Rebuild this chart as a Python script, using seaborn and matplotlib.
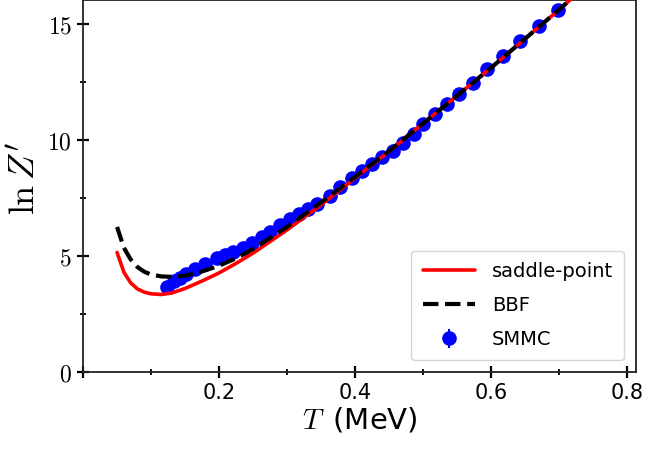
import matplotlib
matplotlib.use("Agg")
import matplotlib.pyplot as plt
import seaborn as sns
import numpy as np
import pandas as pd
from matplotlib.ticker import MultipleLocator

# ---- data ----
T_curve = [0.05, 0.06, 0.07, 0.08, 0.09, 0.10, 0.115, 0.13, 0.15, 0.175, 0.2, 0.225,
           0.25, 0.3, 0.35, 0.4, 0.45, 0.5, 0.55, 0.6, 0.65, 0.7, 0.75, 0.8]
lnZ_saddle = [5.15, 4.3, 3.84, 3.58, 3.44, 3.37, 3.34, 3.4, 3.6, 3.92, 4.27, 4.68,
              5.12, 6.12, 7.2, 8.35, 9.5, 10.7, 11.9, 13.1, 14.35, 15.6, 16.9, 18.2]
lnZ_bbf = [6.25, 5.35, 4.85, 4.52, 4.32, 4.2, 4.12, 4.1, 4.15, 4.33, 4.58, 4.9,
           5.3, 6.25, 7.3, 8.4, 9.52, 10.7, 11.9, 13.1, 14.35, 15.6, 16.9, 18.2]

T_smmc = [0.123, 0.133, 0.143, 0.152, 0.165, 0.179, 0.197, 0.209, 0.221, 0.235,
          0.248, 0.263, 0.275, 0.290, 0.304, 0.317, 0.331, 0.344, 0.363, 0.378,
          0.395, 0.410, 0.425, 0.439, 0.456, 0.471, 0.486, 0.500, 0.518, 0.535,
          0.553, 0.574, 0.594, 0.618, 0.643, 0.670, 0.699]
lnZ_smmc = [3.68, 3.92, 4.07, 4.23, 4.45, 4.67, 4.89, 5.02, 5.15, 5.36,
            5.54, 5.82, 6.05, 6.35, 6.6, 6.8, 7.04, 7.25, 7.6, 7.95,
            8.35, 8.67, 8.97, 9.24, 9.5, 9.88, 10.24, 10.67, 11.1, 11.53,
            11.99, 12.46, 13.03, 13.6, 14.25, 14.9, 15.6]
err_smmc = [0.06] * len(T_smmc)

x_ticks = [0.0, 0.2, 0.4, 0.6, 0.8]
x_ticklabels = ["", "0.2", "0.4", "0.6", "0.8"]
y_ticks = [0, 5, 10, 15]

# ---- plot ----
sns.set_style("ticks")
plt.rcParams["mathtext.fontset"] = "cm"
plt.rcParams["font.family"] = ["DejaVu Sans"]
plt.rcParams["text.color"] = "black"
plt.rcParams["axes.labelcolor"] = "black"
plt.rcParams["xtick.color"] = "black"
plt.rcParams["ytick.color"] = "black"

fig = plt.figure(figsize=(6.7, 4.51), dpi=100)
ax = fig.add_axes([0.124, 0.175, 0.825, 0.824])

df_s = pd.DataFrame({"T": T_curve, "v": lnZ_saddle})
df_b = pd.DataFrame({"T": T_curve, "v": lnZ_bbf})

ax.errorbar(T_smmc, lnZ_smmc, yerr=err_smmc, fmt="o", color="blue",
            markersize=9.5, elinewidth=1.5, label="SMMC", zorder=2)
sns.lineplot(data=df_s, x="T", y="v", ax=ax, color="red", lw=2.6,
             label="saddle-point", zorder=3)
sns.lineplot(data=df_b, x="T", y="v", ax=ax, color="black", lw=3.0,
             linestyle="--", label="BBF", zorder=4)

ax.set_xlim(0, 0.813)
ax.set_ylim(0, 16)
ax.set_xticks(x_ticks)
ax.set_xticklabels(x_ticklabels, fontsize=15)
ax.set_yticks(y_ticks)
ax.set_yticklabels([f"${v}$" for v in y_ticks], fontsize=17)
ax.xaxis.set_minor_locator(MultipleLocator(0.1))
ax.yaxis.set_minor_locator(MultipleLocator(2.5))
ax.tick_params(which="major", direction="inout", length=9, width=1.6, color="black")
ax.tick_params(which="minor", direction="inout", length=5, width=1.3, color="black")
for s in ax.spines.values():
    s.set_linewidth(1.3)
    s.set_color("#222222")

ax.set_xlabel(r"$T\,$ (MeV)", fontsize=21, labelpad=2)
ax.set_ylabel(r"$\ln Z'$", fontsize=26)
ax.yaxis.set_label_coords(-0.075, 0.52)

handles, labels = ax.get_legend_handles_labels()
order = [labels.index("saddle-point"), labels.index("BBF"), labels.index("SMMC")]
ax.legend([handles[i] for i in order], [labels[i] for i in order],
          loc="lower right", fontsize=14, borderaxespad=0.6, borderpad=0.58,
          handlelength=2.67, handletextpad=0.88, labelspacing=0.78)

fig.savefig("out.png", dpi=100)
